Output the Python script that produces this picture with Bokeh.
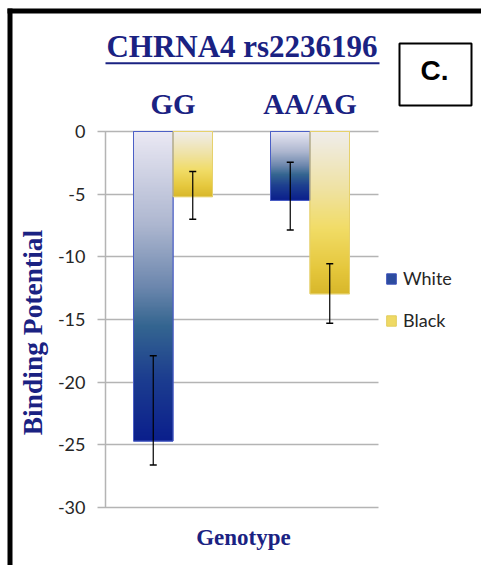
import numpy as np
from bokeh.plotting import figure
from bokeh.models import (Range1d, LinearAxis, FixedTicker, Label, BoxAnnotation,
                          Legend, LegendItem, Whisker, TeeHead, ColumnDataSource)
from bokeh.embed import file_html
from bokeh.resources import INLINE

# ---------------- data ----------------
genotypes = ["GG", "AA/AG"]
series = ["White", "Black"]
white_bp = [-24.7, -5.5]
black_bp = [-5.2, -12.95]
white_err_low = [-26.6, -7.85]
white_err_high = [-17.9, -2.45]
black_err_low = [-7.0, -15.3]
black_err_high = [-3.2, -10.55]
y_ticks = [0, -5, -10, -15, -20, -25, -30]
title_text = "CHRNA4 rs2236196"
panel_letter = "C."
y_label = "Binding Potential"
x_label = "Genotype"

# ---------------- layout constants (pixels) ----------------
W, H = 481, 565
FL, FR, FT, FB = 105, 378, 131, 507      # plot area of the chart
G0, GSTEP = 172.5, 137.0                 # pixel of first group centre, pixels per group
YPX = (FB - FT) / 30.0                   # pixels per y unit

def dx(px):
    return (px - G0) / GSTEP

def dy(py):
    return (FT - py) / YPX

NAVY = "#1a2282"
GRID = "#b4b4b4"
BAR_W = 39.5 / GSTEP
OFF = BAR_W / 2

p = figure(width=W, height=H, output_backend="svg", toolbar_location=None,
           x_range=Range1d(dx(0), dx(W)), y_range=Range1d(dy(H), dy(0)),
           x_axis_location=None, y_axis_location="left",
           min_border=0, min_border_left=0, min_border_right=0,
           min_border_top=0, min_border_bottom=0)
p.outline_line_color = None
p.background_fill_color = "white"
p.border_fill_color = "white"
p.xgrid.visible = False
p.ygrid.visible = False

# y axis at the chart's left edge; its long inward ticks are the grid lines
ya = p.yaxis[0]
ya.fixed_location = dx(FL)
ya.bounds = (min(y_ticks), max(y_ticks))
ya.level = "underlay"
ya.ticker = FixedTicker(ticks=y_ticks)
ya.major_label_overrides = {t: str(t) for t in y_ticks}
ya.axis_line_color = GRID
ya.axis_line_width = 1.5
ya.major_tick_line_color = GRID
ya.major_tick_line_width = 1.5
ya.major_tick_out = 8
ya.major_tick_in = FR - FL
ya.minor_tick_line_color = None
ya.major_label_standoff = 12
ya.major_label_text_font = "Lato"
ya.major_label_text_font_size = "18px"
ya.major_label_text_color = "#262626"

# genotype labels above the chart
top_axis = LinearAxis(ticker=FixedTicker(ticks=list(range(len(genotypes)))),
                      major_label_overrides={i: g for i, g in enumerate(genotypes)},
                      fixed_location=0, bounds=(dx(FL), dx(FR)),
                      axis_line_color=None, major_tick_line_color=None,
                      minor_tick_line_color=None, major_tick_out=0, major_tick_in=0,
                      major_label_standoff=12,
                      major_label_text_font="Liberation Serif",
                      major_label_text_font_style="bold",
                      major_label_text_font_size="29px",
                      major_label_text_color=NAVY)
p.add_layout(top_axis, "above")

# ---------------- gradient bars ----------------
def hex2rgb(h):
    h = h.lstrip("#")
    return np.array([int(h[i:i + 2], 16) for i in (0, 2, 4)], dtype=float)

def grad(stops, t):
    for (t0, c0), (t1, c1) in zip(stops[:-1], stops[1:]):
        if t <= t1:
            f = (t - t0) / (t1 - t0)
            return hex2rgb(c0) * (1 - f) + hex2rgb(c1) * f
    return hex2rgb(stops[-1][1])

white_stops = [(0.0, "#ebe9f4"), (0.3, "#aeb7d0"), (0.5, "#6d88ae"),
               (0.63, "#346590"), (0.8, "#1c3d8f"), (1.0, "#0a1e8c")]
black_stops = [(0.0, "#efedec"), (0.35, "#efe2a4"), (0.6, "#f1dc66"),
               (0.85, "#e5c73c"), (1.0, "#d8b72b")]

M = 240
def gradient_image(stops):
    a = np.zeros((M, 1, 4), dtype=np.uint8)
    for r in range(M):
        t = 1 - (r + 0.5) / M          # row 0 is the bar's (negative) end
        a[r, 0, :3] = np.round(grad(stops, t)).astype(np.uint8)
        a[r, 0, 3] = 255
    return a.view(dtype=np.uint32).reshape((M, 1))

white_x = [gi - OFF for gi in range(len(genotypes))]
black_x = [gi + OFF for gi in range(len(genotypes))]

# solid base bars (also used as legend swatches), covered by the gradients
rw = p.vbar(x=white_x, top=white_bp, bottom=0, width=BAR_W,
            fill_color="#2c4c9e", line_color="#3a4fb8")
rb = p.vbar(x=black_x, top=black_bp, bottom=0, width=BAR_W,
            fill_color="#efd964", line_color="#e2cc5a")

imgs, ix, iy, idw, idh = [], [], [], [], []
for xs, vals, stops in ((white_x, white_bp, white_stops), (black_x, black_bp, black_stops)):
    for xc, v in zip(xs, vals):
        imgs.append(gradient_image(stops))
        ix.append(xc - BAR_W / 2)
        iy.append(v)
        idw.append(BAR_W)
        idh.append(-v)
p.image_rgba(image=imgs, x=ix, y=iy, dw=idw, dh=idh)

p.vbar(x=white_x, top=white_bp, bottom=0, width=BAR_W, fill_color=None,
       line_color="#4b5fc6", line_width=1)
p.vbar(x=black_x, top=black_bp, bottom=0, width=BAR_W, fill_color=None,
       line_color="#e6d16c", line_width=1)

# error bars
err = ColumnDataSource(dict(base=white_x + black_x,
                            lower=white_err_low + black_err_low,
                            upper=white_err_high + black_err_high))
p.add_layout(Whisker(source=err, base="base", lower="lower", upper="upper",
                     level="overlay", line_color="black", line_width=1.2,
                     upper_head=TeeHead(size=7, line_color="black", line_width=1.5),
                     lower_head=TeeHead(size=7, line_color="black", line_width=1.5)))

# legend
legend = Legend(items=[LegendItem(label=series[0], renderers=[rw]),
                       LegendItem(label=series[1], renderers=[rb])],
                location=(385, H - 331), orientation="vertical",
                glyph_width=12, glyph_height=13, label_height=20, spacing=20,
                label_standoff=6, padding=0, margin=0,
                border_line_color=None, background_fill_alpha=0,
                label_text_font="Lato", label_text_font_size="18px",
                label_text_color="#262626")
p.add_layout(legend)

SHIFT = 12  # label anchor correction (pixels)

# axis titles
p.add_layout(Label(x=dx(243), y=dy(546 - 9), text=x_label, text_align="center",
                   text_baseline="alphabetic", text_font="Liberation Serif",
                   text_font_style="bold", text_font_size="23px", text_color=NAVY))
p.add_layout(Label(x=dx(32), y=dy(332), text=y_label, angle=np.pi / 2,
                   text_align="center", text_baseline="middle",
                   text_font="Liberation Serif", text_font_style="bold",
                   text_font_size="27.5px", text_color=NAVY))

# title with underline
p.add_layout(Label(x=dx(241.5), y=dy(58.3 - SHIFT), text=title_text, text_align="center",
                   text_baseline="alphabetic", text_font="Liberation Serif",
                   text_font_style="bold", text_font_size="31px", text_color=NAVY))
p.add_layout(BoxAnnotation(left=dx(105), right=dx(379), top=dy(61.8), bottom=dy(63.8),
                           fill_color=NAVY, fill_alpha=1, line_color=None))

# panel letter box
p.add_layout(BoxAnnotation(left=dx(399), right=dx(471), top=dy(43), bottom=dy(105),
                           fill_color="white", fill_alpha=1, line_color="black",
                           line_alpha=1, line_width=2))
p.add_layout(Label(x=dx(434), y=dy(81.7 - SHIFT), text=panel_letter, text_align="center",
                   text_baseline="alphabetic", text_font="Liberation Sans",
                   text_font_style="bold", text_font_size="28px", text_color="black"))

# outer frame border (left and top edges; the others lie beyond the page)
p.add_layout(BoxAnnotation(left=dx(7), right=dx(12), top=dy(8), bottom=dy(H + 20),
                           fill_color="black", fill_alpha=1, line_color=None))
p.add_layout(BoxAnnotation(left=dx(7), right=dx(W + 20), top=dy(8), bottom=dy(13),
                           fill_color="black", fill_alpha=1, line_color=None))

open("out.html", "w").write(file_html(p, INLINE))
